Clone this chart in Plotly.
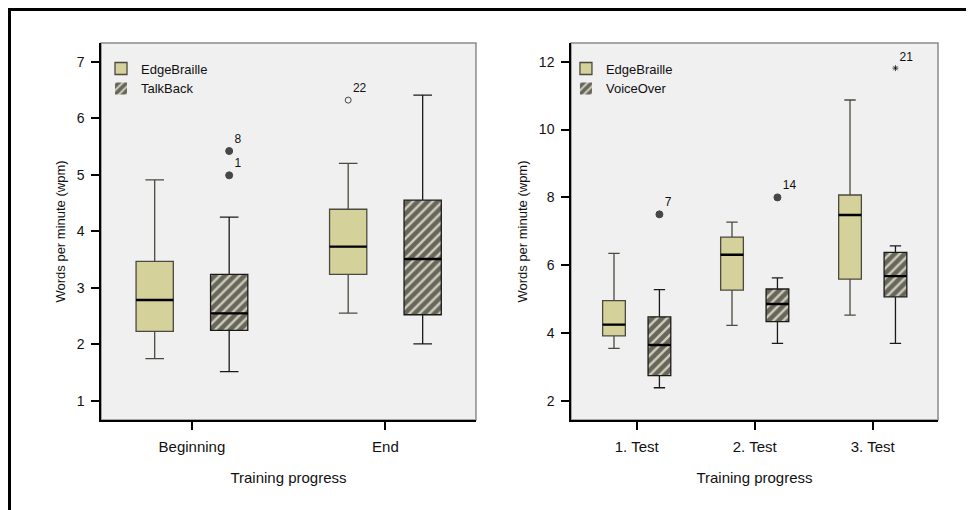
import plotly.graph_objects as go

# ---------------- data ----------------
left_categories = ["Beginning", "End"]
left_series = ["EdgeBraille", "TalkBack"]
eb_left_lower = [1.75, 2.555]
eb_left_q1 = [2.23, 3.24]
eb_left_median = [2.785, 3.73]
eb_left_q3 = [3.47, 4.39]
eb_left_upper = [4.91, 5.20]
tb_left_lower = [1.52, 2.01]
tb_left_q1 = [2.25, 2.525]
tb_left_median = [2.55, 3.51]
tb_left_q3 = [3.24, 4.55]
tb_left_upper = [4.25, 6.41]

left_out_category = ["Beginning", "Beginning", "End"]
left_out_series = ["TalkBack", "TalkBack", "EdgeBraille"]
left_out_value = [5.42, 4.99, 6.32]
left_out_label = ["8", "1", "22"]

right_categories = ["1. Test", "2. Test", "3. Test"]
right_series = ["EdgeBraille", "VoiceOver"]
eb_right_lower = [3.55, 4.23, 4.53]
eb_right_q1 = [3.92, 5.27, 5.59]
eb_right_median = [4.25, 6.31, 7.48]
eb_right_q3 = [4.96, 6.83, 8.07]
eb_right_upper = [6.35, 7.27, 10.87]
vo_right_lower = [2.39, 3.70, 3.70]
vo_right_q1 = [2.75, 4.34, 5.07]
vo_right_median = [3.65, 4.86, 5.68]
vo_right_q3 = [4.48, 5.30, 6.38]
vo_right_upper = [5.28, 5.63, 6.57]

right_out_category = ["1. Test", "2. Test", "3. Test"]
right_out_series = ["VoiceOver", "VoiceOver", "VoiceOver"]
right_out_value = [7.5, 8.0, 11.81]
right_out_label = ["7", "14", "21"]

# ---------------- style ----------------
FONT = "Liberation Sans, Arial, Helvetica, sans-serif"
GROUP_GAP = 0.23      # free space between category groups
BOX_FRACTION = 0.5    # box width as fraction of its slot
EB_FILL = "#d5d19b"
EB_LINE = "#4a4a40"
HATCH_BG = "#cfcdb8"
HATCH_FG = "#000000"
left_out_symbols = ["circle", "circle", "circle-open"]
right_out_symbols = ["circle", "circle", "asterisk-open"]
left_out_sizes = [7, 7, 6]
right_out_sizes = [7, 7, 5]

slot_offset = (1 - GROUP_GAP) / 4
box_width = (1 - GROUP_GAP) * BOX_FRACTION / 2

fig = go.Figure()


def add_panel(cats, series, eb, other, outs, xa, ya, legend):
    idx = list(range(len(cats)))
    x_eb = [i - slot_offset for i in idx]
    x_ot = [i + slot_offset for i in idx]
    lo, q1, med, q3, up = eb
    fig.add_trace(go.Box(
        x=x_eb, q1=q1, median=med, q3=q3, lowerfence=lo, upperfence=up, width=box_width,
        name=series[0], fillcolor=EB_FILL, line=dict(color=EB_LINE, width=1.3),
        whiskerwidth=0.5, boxpoints=False, xaxis=xa, yaxis=ya, legend=legend,
        hoverinfo="skip"))
    lo2, q12, med2, q32, up2 = other
    # hatched body drawn as a bar under the box outline
    fig.add_trace(go.Bar(
        x=x_ot, y=[b - a for a, b in zip(q12, q32)], base=q12,
        width=box_width, name=series[1],
        marker=dict(color=HATCH_BG, line=dict(width=0),
                    pattern=dict(shape="/", fgcolor=HATCH_FG, bgcolor=HATCH_BG,
                                 size=7, solidity=0.65)),
        xaxis=xa, yaxis=ya, legend=legend, hoverinfo="skip"))
    fig.add_trace(go.Box(
        x=x_ot, q1=q12, median=med2, q3=q32, lowerfence=lo2, upperfence=up2, width=box_width,
        name=series[1], fillcolor="rgba(0,0,0,0)", line=dict(color="#1a1a1a", width=1.3),
        whiskerwidth=0.5, boxpoints=False, xaxis=xa, yaxis=ya, legend=legend,
        showlegend=False, hoverinfo="skip"))
    # thicker median bars (zero-height boxes at the medians)
    for xs, m in ((x_eb, med), (x_ot, med2)):
        fig.add_trace(go.Box(
            x=xs, q1=m, median=m, q3=m, lowerfence=m, upperfence=m, width=box_width,
            fillcolor="rgba(0,0,0,0)", line=dict(color="#000", width=2.4),
            whiskerwidth=0, boxpoints=False, xaxis=xa, yaxis=ya, showlegend=False,
            hoverinfo="skip"))
    ocat, oser, oval, olab, osym, osz = outs
    ox = [cats.index(c) + (-slot_offset if s == series[0] else slot_offset)
          for c, s in zip(ocat, oser)]
    fig.add_trace(go.Scatter(
        x=ox, y=oval, text=olab, mode="markers+text", textposition="top right",
        textfont=dict(size=12, color="#111", family=FONT),
        marker=dict(symbol=osym, size=osz, color="#000",
                    line=dict(color="#000", width=1)),
        xaxis=xa, yaxis=ya, showlegend=False, hoverinfo="skip"))


add_panel(left_categories, left_series,
          (eb_left_lower, eb_left_q1, eb_left_median, eb_left_q3, eb_left_upper),
          (tb_left_lower, tb_left_q1, tb_left_median, tb_left_q3, tb_left_upper),
          (left_out_category, left_out_series, left_out_value, left_out_label,
           left_out_symbols, left_out_sizes),
          "x", "y", "legend")
add_panel(right_categories, right_series,
          (eb_right_lower, eb_right_q1, eb_right_median, eb_right_q3, eb_right_upper),
          (vo_right_lower, vo_right_q1, vo_right_median, vo_right_q3, vo_right_upper),
          (right_out_category, right_out_series, right_out_value, right_out_label,
           right_out_symbols, right_out_sizes),
          "x2", "y2", "legend2")

axis_common = dict(showgrid=False, zeroline=False, showline=True, linecolor="#000",
                   ticks="outside", ticklen=8, tickwidth=1.5, tickcolor="#000",
                   tickfont=dict(size=14, color="#111", family=FONT))

xcommon = dict(axis_common, linewidth=2, ticklabelstandoff=4,
               tickfont=dict(size=15, color="#111", family=FONT),
               title=dict(text="Training progress", font=dict(size=15, color="#111", family=FONT),
                          standoff=18))
ycommon = dict(axis_common, linewidth=1.5, ticklabelstandoff=4,
               title=dict(text="Words per minute (wpm)", font=dict(size=13, color="#111", family=FONT),
                          standoff=8))

ML, MR, MT, MB = 93, 44, 35, 98
fig.update_layout(
    width=974, height=510,
    margin=dict(l=ML, r=MR, t=MT, b=MB, autoexpand=False),
    paper_bgcolor="#ffffff", plot_bgcolor="#f0f0f0",
    barmode="overlay", boxmode="overlay",
    font=dict(family=FONT, color="#111"),
    xaxis=dict(xcommon, domain=[0, 0.448], range=[-0.47, 1.468],
               tickvals=list(range(len(left_categories))), ticktext=left_categories, anchor="y"),
    yaxis=dict(ycommon, range=[0.664, 7.33], tickvals=[1, 2, 3, 4, 5, 6, 7], anchor="x"),
    xaxis2=dict(xcommon, domain=[0.5615, 1], range=[-0.557, 2.553],
                tickvals=list(range(len(right_categories))), ticktext=right_categories, anchor="y2"),
    yaxis2=dict(ycommon, range=[1.44, 12.55], tickvals=[2, 4, 6, 8, 10, 12], anchor="x2"),
    legend=dict(x=0.0, y=0.972, xanchor="left", yanchor="top", bgcolor="rgba(0,0,0,0)",
                font=dict(size=13, color="#111", family=FONT), tracegroupgap=0),
    legend2=dict(x=0.5555, y=0.972, xanchor="left", yanchor="top", bgcolor="rgba(0,0,0,0)",
                 font=dict(size=13, color="#111", family=FONT), tracegroupgap=0),
    shapes=[
        dict(type="rect", xref="x domain", yref="y domain", x0=0, x1=1, y0=0, y1=1,
             line=dict(color="#8a8a8a", width=1.5), layer="below"),
        dict(type="rect", xref="x2 domain", yref="y2 domain", x0=0, x1=1, y0=0, y1=1,
             line=dict(color="#8a8a8a", width=1.5), layer="below"),
        dict(type="rect", xref="paper", yref="paper",
             x0=(1.5 - ML) / 837, x1=(1000 - ML) / 837,
             y0=-(MB + 30) / 377, y1=1 + (MT - 1.5) / 377,
             line=dict(color="#000", width=3)),
    ],
)

fig.write_html("out.html")
